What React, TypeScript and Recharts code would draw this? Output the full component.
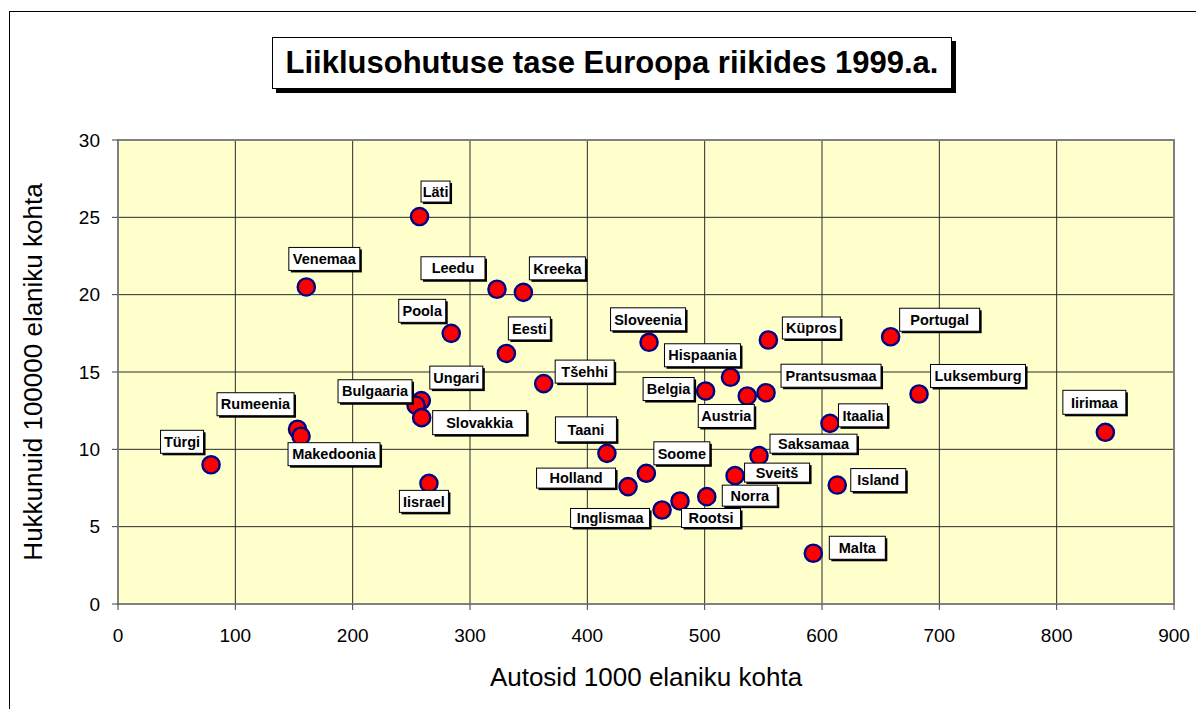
import React from 'react';
import { ScatterChart, Scatter, XAxis, YAxis, CartesianGrid, ReferenceArea, Label } from 'recharts';

const FONT = '"Liberation Sans", Arial, Helvetica, sans-serif';

const countries = [
  'Läti', 'Venemaa', 'Leedu', 'Kreeka', 'Poola', 'Eesti', 'Tšehhi', 'Ungari', 'Bulgaaria',
  'Slovakkia', 'Rumeenia', 'Makedoonia', 'Türgi', 'Iisrael', 'Sloveenia', 'Küpros', 'Portugal',
  'Hispaania', 'Belgia', 'Austria', 'Prantsusmaa', 'Luksemburg', 'Iirimaa', 'Itaalia', 'Saksamaa',
  'Taani', 'Soome', 'Holland', 'Sveitš', 'Island', 'Norra', 'Rootsi', 'Inglismaa', 'Malta',
];
const carsPer1000 = [
  257, 160.5, 323, 345.5, 284, 331, 362.8, 258.5, 254,
  258.8, 153, 156, 79.3, 265, 452.6, 554.3, 658.5,
  522, 500.8, 536.3, 552.3, 682.7, 841.5, 606.8, 546.3,
  416.7, 450.3, 434.7, 525.9, 613, 501.8, 479, 463.7, 592.6,
];
const deathsPer100000 = [
  25.05, 20.5, 20.35, 20.15, 17.5, 16.2, 14.25, 13.15, 12.85,
  12.05, 11.3, 10.85, 9.0, 7.8, 16.92, 17.07, 17.28,
  14.66, 13.77, 13.45, 13.66, 13.58, 11.1, 11.68, 9.59,
  9.74, 8.45, 7.59, 8.3, 7.69, 6.94, 6.66, 6.08, 3.28,
];
const xTicks = [0, 100, 200, 300, 400, 500, 600, 700, 800, 900];
const yTicks = [0, 5, 10, 15, 20, 25, 30];

const chartTitle = 'Liiklusohutuse tase Euroopa riikides 1999.a.';
const xTitle = 'Autosid 1000 elaniku kohta';
const yTitle = 'Hukkunuid 100000 elaniku kohta';

// label box placement relative to marker centre: [dx, dy, width, height] in px
const labelBoxes: Record<string, [number, number, number, number]> = {
  'Läti': [17, -24, 31, 23],
  'Venemaa': [19, -27, 73, 25],
  'Leedu': [-43, -20, 66, 25],
  'Kreeka': [35, -23, 58, 25],
  'Poola': [-28, -21.5, 49, 25],
  'Eesti': [24, -24, 44, 25],
  'Tšehhi': [42, -11, 61, 25],
  'Ungari': [36, -22, 55, 25],
  'Bulgaaria': [-40, -13, 76, 25],
  'Slovakkia': [59, 6, 96, 26],
  'Rumeenia': [-41, -24, 79, 25],
  'Makedoonia': [34, 19, 94, 25],
  'Türgi': [-28, -22, 45, 25],
  'Iisrael': [-4, 19, 51, 24],
  'Sloveenia': [0, -22, 77, 25],
  'Küpros': [44, -11, 60, 24],
  'Portugal': [50, -16, 82, 25],
  'Hispaania': [-27, -21, 78, 25],
  'Belgia': [-36, -1, 53, 25],
  'Austria': [-20, 21, 58, 25],
  'Prantsusmaa': [66, -16, 102, 25],
  'Luksemburg': [60, -17, 97, 25],
  'Iirimaa': [-10, -29, 65, 26],
  'Itaalia': [34, -7, 51, 25],
  'Saksamaa': [55.5, -11, 89, 21],
  'Taani': [-20, -23, 63, 27],
  'Soome': [36.5, -19, 58, 25],
  'Holland': [-51, -7.5, 81, 22],
  'Sveitš': [43, -2, 67, 21],
  'Island': [42, -4, 57, 25],
  'Norra': [44, 0, 57, 23],
  'Rootsi': [32, 18, 61, 21],
  'Inglismaa': [-51, 9, 81, 21],
  'Malta': [45, -4.5, 58, 25],
};

const points = countries.map((name, i) => ({ name, x: carsPer1000[i], y: deathsPer100000[i] }));

const Marker = (props: any) => {
  const { cx, cy } = props;
  if (cx == null || cy == null) return null;
  return <circle cx={cx} cy={cy} r={8.6} fill="#FF0000" stroke="#000080" strokeWidth={2.4} />;
};

const LabelBox = (props: any) => {
  const { cx, cy, payload } = props;
  if (cx == null || cy == null || !payload) return null;
  const b = labelBoxes[payload.name];
  if (!b) return null;
  const [dx, dy, w, h] = b;
  const bw = w - 2;
  const bh = h - 2;
  const x = cx + dx - w / 2;
  const y = cy + dy - h / 2;
  return (
    <g>
      <rect x={x + 2} y={y + 2} width={bw} height={bh} fill="#000" />
      <rect x={x} y={y} width={bw} height={bh} fill="#fff" stroke="#000" strokeWidth={1} />
      <text
        x={x + bw / 2}
        y={y + bh / 2}
        dy="0.36em"
        textAnchor="middle"
        fontFamily={FONT}
        fontWeight="bold"
        fontSize={14.5}
        fill="#000"
      >
        {payload.name}
      </text>
    </g>
  );
};

export default function App() {
  return (
    <div style={{ position: 'relative', width: 1196, height: 709, overflow: 'hidden', background: '#fff' }}>
      <style>{'html,body{margin:0;padding:0;overflow:hidden;background:#fff}'}</style>
      <div
        style={{
          position: 'absolute',
          left: 9,
          top: 11,
          width: 1400,
          height: 900,
          borderLeft: '1px solid #000',
          borderTop: '1px solid #000',
          boxSizing: 'border-box',
        }}
      />
      <div style={{ position: 'absolute', left: 0, top: 0 }}>
        <ScatterChart width={1196} height={709} margin={{ top: 140, right: 22, bottom: 0, left: 0 }}>
          <CartesianGrid fill="#FFFFCC" fillOpacity={1} stroke="#2a2a2a" strokeWidth={1} />
          <XAxis
            type="number"
            dataKey="x"
            domain={[0, 900]}
            ticks={xTicks}
            interval={0}
            height={105}
            tickSize={6}
            tickMargin={19}
            axisLine={{ stroke: '#808080', strokeWidth: 2 }}
            tickLine={{ stroke: '#404040' }}
            tick={{ fontSize: 19, fill: '#000', fontFamily: FONT }}
          >
            <Label
              value={xTitle}
              position="insideBottom"
              offset={23}
              fontSize={26}
              fill="#000"
              fontFamily={FONT}
            />
          </XAxis>
          <YAxis
            type="number"
            dataKey="y"
            domain={[0, 30]}
            ticks={yTicks}
            interval={0}
            width={118}
            tickSize={6}
            tickMargin={12}
            axisLine={{ stroke: '#808080', strokeWidth: 2 }}
            tickLine={{ stroke: '#404040' }}
            tick={{ fontSize: 19, fill: '#000', fontFamily: FONT }}
          >
            <Label
              value={yTitle}
              angle={-90}
              position="insideLeft"
              offset={33}
              fontSize={26}
              fill="#000"
              fontFamily={FONT}
              style={{ textAnchor: 'middle' }}
            />
          </YAxis>
          <ReferenceArea x1={0} x2={900} y1={0} y2={30} fill="none" stroke="#808080" strokeWidth={2} />
          <Scatter data={points} shape={Marker} isAnimationActive={false} />
          <Scatter data={points} shape={LabelBox} isAnimationActive={false} />
        </ScatterChart>
      </div>
      <div
        style={{
          position: 'absolute',
          left: 272,
          top: 37,
          width: 680,
          height: 52,
          boxSizing: 'border-box',
          border: '1px solid #000',
          background: '#fff',
          boxShadow: '4px 4px 0 #000',
          display: 'flex',
          alignItems: 'center',
          justifyContent: 'center',
          fontFamily: FONT,
          fontWeight: 'bold',
          fontSize: 31,
          color: '#000',
          whiteSpace: 'nowrap',
        }}
      >
        {chartTitle}
      </div>
    </div>
  );
}
